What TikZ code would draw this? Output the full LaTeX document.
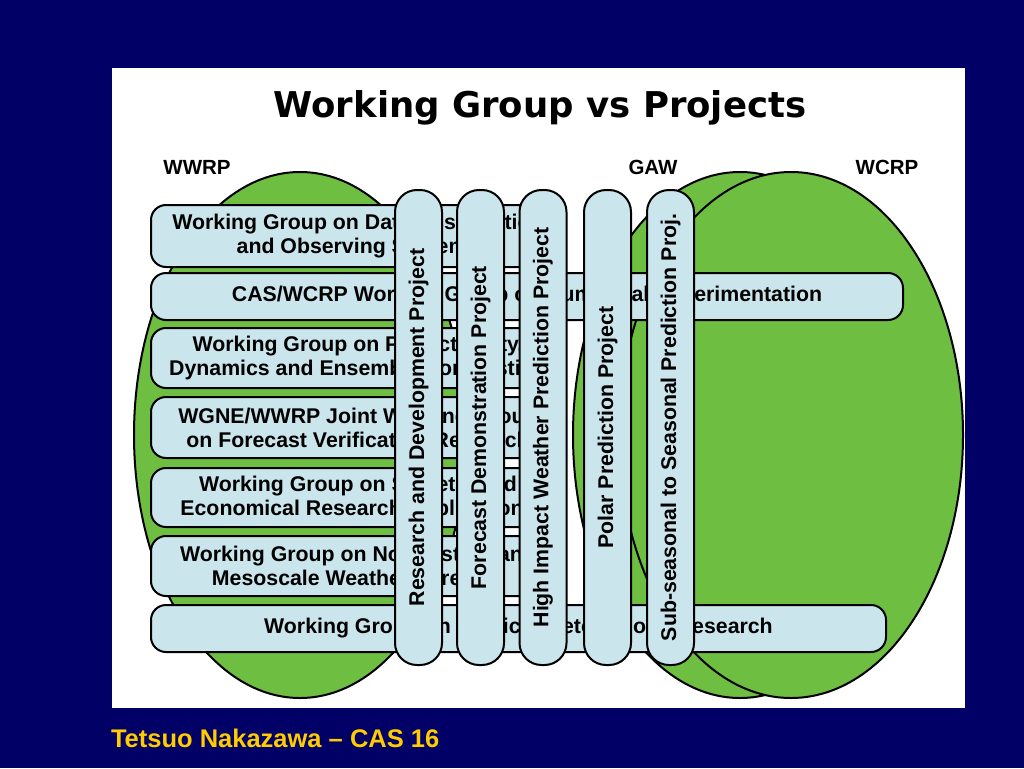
\documentclass[tikz,border=0pt]{standalone}
\usepackage{fontspec}
\setmainfont{Liberation Sans}
\newfontfamily\titlefont{DejaVu Sans}
\usetikzlibrary{shapes.geometric}
\definecolor{navy}{RGB}{0,0,102}
\definecolor{leaf}{RGB}{110,190,66}
\definecolor{ice}{RGB}{202,229,236}
\definecolor{gold}{RGB}{255,204,0}

\begin{document}
\begin{tikzpicture}[x=1pt,y=-1pt,line width=2pt]
\tikzset{GroupStyle/.style = {draw,rounded corners=15pt,fill=ice,
                              inner sep=0pt,align=center,
                              font=\fontsize{21.3}{24}\selectfont\bfseries},
         ProjStyle/.style = {draw,rounded corners=22pt,fill=ice,
                             minimum width=475pt,minimum height=47pt,
                             inner sep=0pt,rotate=90,
                             font=\fontsize{21.3}{24}\selectfont\bfseries},
         BlobStyle/.style = {draw,ellipse,fill=leaf,inner sep=0pt},
         TagStyle/.style = {font=\fontsize{20.5}{24}\selectfont\bfseries}}
\useasboundingbox (0,0) rectangle (1024,768);
\fill[navy] (0,0) rectangle (1024,768);
\fill[white] (112,68) rectangle (965,708);
\node[font=\titlefont\fontsize{35.5}{38}\selectfont\bfseries] (title) at (540,108) {Working Group vs Projects};
\node[TagStyle] (wwrpTag) at (197,167) {WWRP};
\node[TagStyle] (gawTag) at (653,167) {GAW};
\node[TagStyle] (wcrpTag) at (887,167) {WCRP};
% the three programmes
\node[BlobStyle,minimum width=332pt,minimum height=526pt] (wwrp) at (300,435) {};
\node[BlobStyle,minimum width=334pt,minimum height=526pt] (gaw) at (740,435) {};
\node[BlobStyle,minimum width=344pt,minimum height=526pt] (wcrp) at (791,435) {};
% working groups
\node[GroupStyle,minimum width=414pt,minimum height=62pt] (g1) at (358,236) {Working Group on Data Assimilation\\and Observing Systems};
\node[GroupStyle,minimum width=752pt,minimum height=47pt] (g2) at (527,296.5) {CAS/WCRP Working Group on Numerical Experimentation};
\node[GroupStyle,minimum width=414pt,minimum height=60pt] (g3) at (358,358) {Working Group on Predictability,\\Dynamics and Ensemble Forecasting};
\node[GroupStyle,minimum width=414pt,minimum height=61pt] (g4) at (358,427.5) {WGNE/WWRP Joint Working Group\\on Forecast Verification Research};
\node[GroupStyle,minimum width=414pt,minimum height=59pt] (g5) at (358,497.5) {Working Group on Societal and\\Economical Research Applications};
\node[GroupStyle,minimum width=414pt,minimum height=60pt] (g6) at (358,566) {Working Group on Nowcasting and\\Mesoscale Weather Forecast};
\node[GroupStyle,minimum width=735pt,minimum height=47pt] (g7) at (518.5,628.5) {Working Group on Tropical Meteorology Research};
% projects
\node[ProjStyle] (p1) at (418.5,427.5) {Research and Development Project};
\node[ProjStyle] (p2) at (480.5,427.5) {Forecast Demonstration Project};
\node[ProjStyle] (p3) at (543,427.5) {High Impact Weather Prediction Project};
\node[ProjStyle] (p4) at (607.5,427.5) {Polar Prediction Project};
\node[ProjStyle] (p5) at (670.5,427.5) {Sub-seasonal to Seasonal Prediction Proj.};
\node[TagStyle,text=gold,font=\fontsize{25.5}{28}\selectfont\bfseries,anchor=west,inner sep=0pt] (credit) at (110,738) {Tetsuo Nakazawa -- CAS 16};
\end{tikzpicture}
\end{document}
